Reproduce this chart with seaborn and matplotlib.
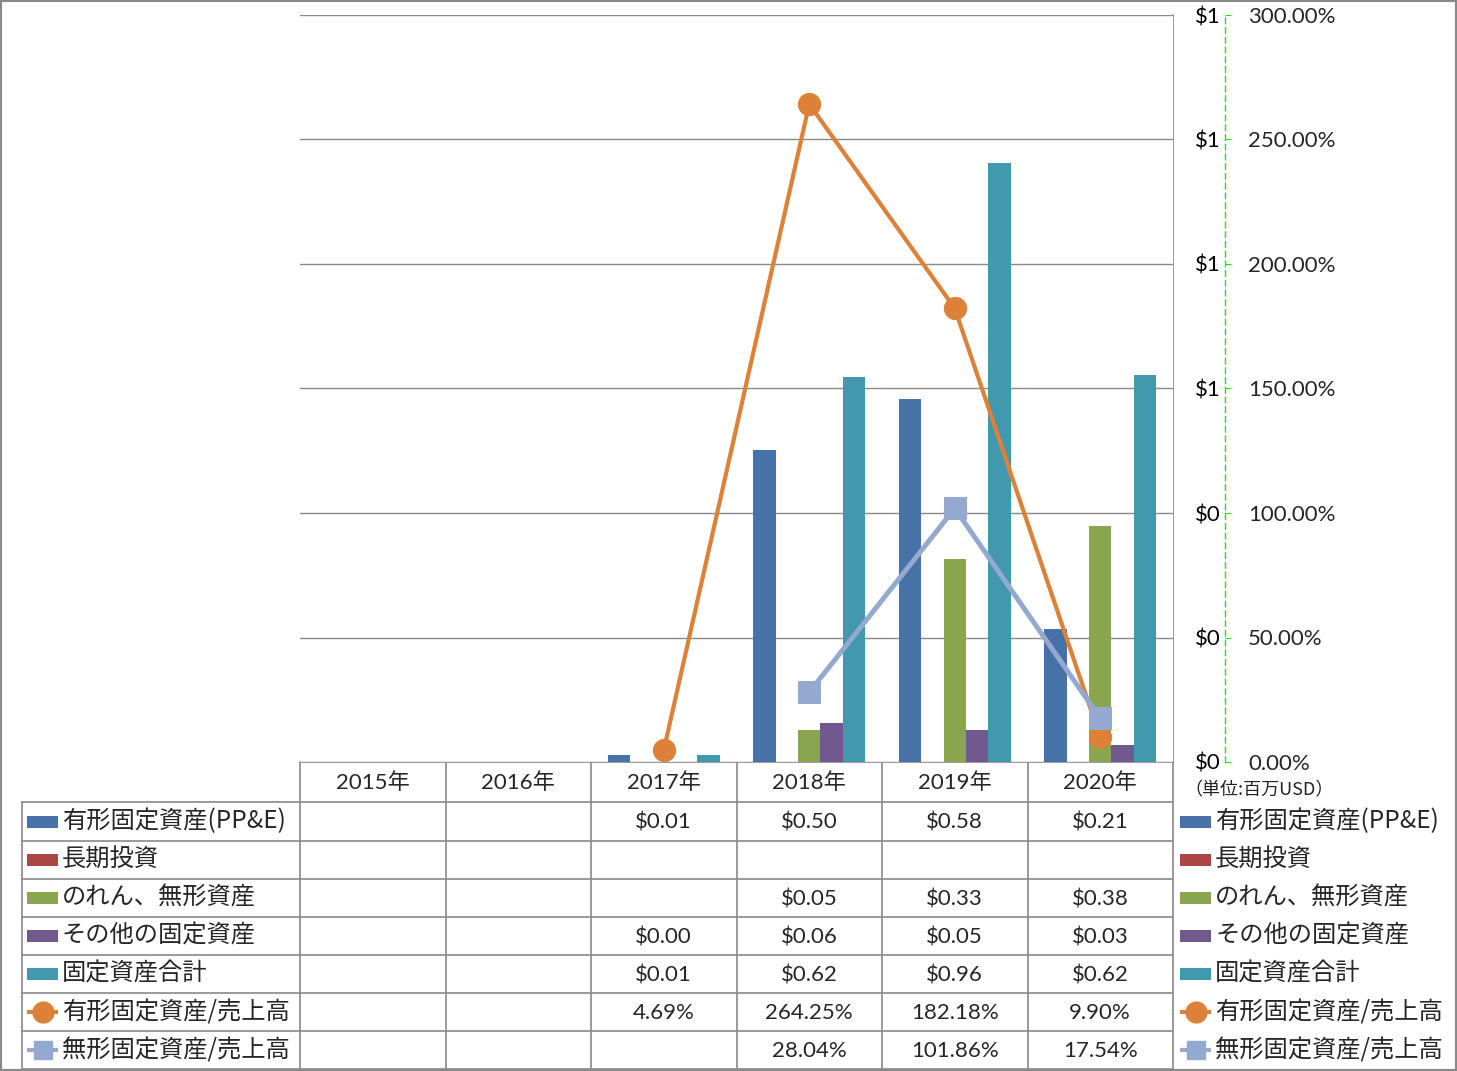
import numpy as np
import pandas as pd
import matplotlib
matplotlib.use("Agg")
import matplotlib.pyplot as plt
import matplotlib.ticker as mticker
from matplotlib.patches import Rectangle
import seaborn as sns

# ---- data ----
years = ["2015年", "2016年", "2017年", "2018年", "2019年", "2020年"]

bar_names = ["有形固定資産(PP&E)", "長期投資", "のれん、無形資産", "その他の固定資産", "固定資産合計"]
ppe = [np.nan, np.nan, 0.011, 0.501, 0.583, 0.214]
long_inv = [np.nan, np.nan, np.nan, np.nan, np.nan, np.nan]
goodwill = [np.nan, np.nan, np.nan, 0.051, 0.326, 0.379]
other = [np.nan, np.nan, 0.0003, 0.063, 0.051, 0.027]
total = [np.nan, np.nan, 0.011, 0.618, 0.962, 0.622]

line_names = ["有形固定資産/売上高", "無形固定資産/売上高"]
ppe_ratio = [np.nan, np.nan, 4.69, 264.25, 182.18, 9.90]
intang_ratio = [np.nan, np.nan, np.nan, 28.04, 101.86, 17.54]

bar_colors = ["#4672A8", "#AA4643", "#89A54E", "#71588F", "#4198AF"]
line_colors = ["#DE8138", "#93A9CF"]
grid_col = "#898989"

W, H = 1457, 1071
sns.set_style("white")
plt.rcParams["font.family"] = ["Lato", "Noto Sans CJK JP", "DejaVu Sans"]
JP = ["Noto Sans CJK JP", "DejaVu Sans"]
NUM_FS = 16

bars = pd.DataFrame({
    "year": np.repeat(years, len(bar_names)),
    "series": bar_names * len(years),
    "value": np.array([ppe, long_inv, goodwill, other, total]).T.ravel(),
})

fig = plt.figure(figsize=(W / 100, H / 100), dpi=100)


def px(x0, y0, x1, y1):
    return [x0 / W, 1 - y1 / H, (x1 - x0) / W, (y1 - y0) / H]


plot_l, plot_r, plot_t, plot_b = 300, 1173, 15, 762
ax = fig.add_axes(px(plot_l, plot_t, plot_r, plot_b))
sns.barplot(data=bars, x="year", y="value", hue="series", order=years,
            hue_order=bar_names, palette=bar_colors, width=0.77,
            saturation=1, errorbar=None, legend=False, linewidth=0, ax=ax)
ax.set_xlim(-0.5, len(years) - 0.5)
ax.set_ylim(0, 1.2)
ax.yaxis.set_major_locator(mticker.MultipleLocator(0.2))
ax.yaxis.set_major_formatter(mticker.FuncFormatter(lambda v, p: "$%.0f" % v))
ax.grid(axis="y", color=grid_col, lw=1)
ax.set_axisbelow(True)
ax.set(xlabel="", ylabel="")
ax.set_xticks([])
for s in ["top", "bottom", "right"]:
    ax.spines[s].set_visible(False)
ax.spines["left"].set_position(("axes", (1225 - plot_l) / (plot_r - plot_l)))
ax.spines["left"].set_color("#22DD22")
ax.spines["left"].set_linestyle((0, (4, 3)))
ax.spines["left"].set_linewidth(1)
ax.tick_params(axis="y", direction="in", length=4, color="#22DD22",
               labelsize=NUM_FS, pad=3, labelcolor="black")

ax2 = ax.twinx()
pos = np.arange(len(years))
sns.lineplot(x=pos, y=ppe_ratio, ax=ax2, color=line_colors[0], lw=3,
             marker="o", markersize=16, markeredgecolor=line_colors[0])
sns.lineplot(x=pos, y=intang_ratio, ax=ax2, color=line_colors[1], lw=3.6,
             marker="s", markersize=16, markeredgecolor=line_colors[1])
ax2.set_ylim(0, 300)
ax2.set_xlim(-0.5, len(years) - 0.5)
ax2.yaxis.set_major_locator(mticker.MultipleLocator(50))
ax2.yaxis.set_major_formatter(mticker.FuncFormatter(lambda v, p: "%.2f%%" % v))
ax2.tick_params(axis="y", length=0, labelsize=NUM_FS, pad=54)
for s in ax2.spines.values():
    s.set_visible(False)
ax2.set(xlabel="", ylabel="")

# ---- data table below the plot ----
tab = fig.add_axes([0, 0, 1, 1], zorder=-1)
tab.set_xlim(0, W)
tab.set_ylim(H, 0)
tab.axis("off")
col_x = np.linspace(plot_l, plot_r, len(years) + 1)
row_y = [762, 802, 841, 879, 917, 955, 993, 1031, 1069]
lc = dict(color=grid_col, lw=1.2)

tab.add_patch(Rectangle((0.5, 0.5), W - 1.5, H - 1.5, fill=False, ec=grid_col, lw=1.5))
tab.plot([plot_r, plot_r], [plot_t, row_y[-1]], **lc)
tab.plot([plot_l, plot_r], [row_y[0], row_y[0]], **lc)
for y in row_y[1:]:
    tab.plot([22, plot_r], [y, y], **lc)
tab.plot([22, 22], [row_y[1], row_y[-1]], **lc)
for x in col_x[:-1]:
    tab.plot([x, x], [row_y[0], row_y[-1]], **lc)

for i, yr in enumerate(years):
    tab.text((col_x[i] + col_x[i + 1]) / 2, (row_y[0] + row_y[1]) / 2 + 1, yr,
             ha="center", va="center", fontsize=NUM_FS)

series_vals = [ppe, long_inv, goodwill, other, total]
for r, vals in enumerate(series_vals + [ppe_ratio, intang_ratio]):
    yc = (row_y[r + 1] + row_y[r + 2]) / 2
    for i, v in enumerate(vals):
        if np.isnan(v):
            continue
        txt = "$%.2f" % v if r < len(series_vals) else "%.2f%%" % v
        tab.text((col_x[i] + col_x[i + 1]) / 2, yc + 1, txt,
                 ha="center", va="center", fontsize=NUM_FS)


def legend_key(x0, yc, r):
    if r < len(bar_names):
        tab.add_patch(Rectangle((x0, yc - 6), 31, 12, color=bar_colors[r], lw=0))
        label = bar_names[r]
    else:
        k = r - len(bar_names)
        tab.plot([x0, x0 + 31], [yc, yc], color=line_colors[k], lw=3, solid_capstyle="butt")
        tab.plot([x0 + 15.5], [yc], marker="o" if k == 0 else "s",
                 ms=15 if k == 0 else 13, color=line_colors[k])
        label = line_names[k]
    tab.text(x0 + 35, yc, label, ha="left", va="center", fontsize=17.5, family=JP)


for r in range(len(bar_names) + len(line_names)):
    yc = (row_y[r + 1] + row_y[r + 2]) / 2
    legend_key(27, yc, r)
    legend_key(1180, yc, r)

tab.text(1184, 790, "（単位:百万USD）", ha="left", va="center", fontsize=13,
         family=JP, color="#222222")

fig.savefig("out.png", dpi=100)
